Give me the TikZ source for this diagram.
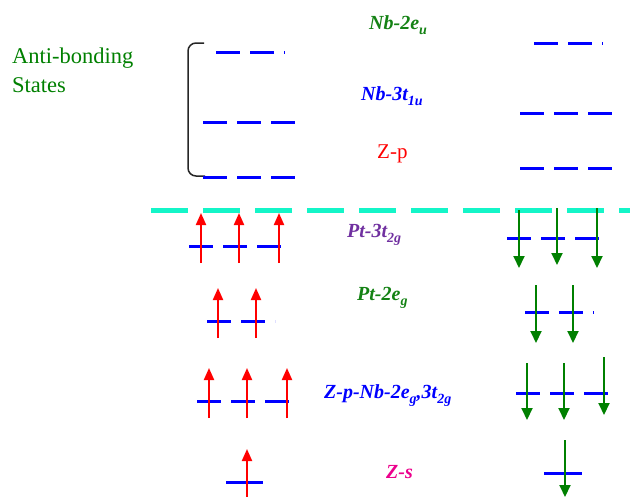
\documentclass[tikz,border=0pt]{standalone}
\usepackage{fontspec}
\setmainfont{Liberation Serif}
\usetikzlibrary{arrows.meta, positioning}

\definecolor{spingreen}{RGB}{0,128,0}
\definecolor{labgreen}{RGB}{20,130,20}
\definecolor{labpurple}{RGB}{112,48,160}
\definecolor{fermicyan}{RGB}{20,245,200}

\newcommand{\lowidx}[1]{\raisebox{-5pt}{\fontsize{14}{14}\selectfont #1}}

\begin{document}
\begin{tikzpicture}[x=1pt, y=-1pt,
	level/.style={draw=blue, line width=3pt, dash pattern=on 24pt off 10pt},
	spinup/.style={red, line width=2pt, -{Triangle[length=12pt, width=10pt]}},
	spindown/.style={spingreen, line width=2pt, -{Triangle[length=12pt, width=11pt]}},
	orb/.style={anchor=base west, inner sep=0pt, font=\fontsize{20}{24}\selectfont\bfseries\itshape}]

	\useasboundingbox (0,0) rectangle (630,496);

	% text
	\node[anchor=base west, inner sep=0pt, spingreen, font=\fontsize{22.5}{26}\selectfont] (anti) at (12,63) {Anti-bonding};
	\node[anchor=base west, inner sep=0pt, spingreen, font=\fontsize{22.5}{26}\selectfont] (states) at ([yshift=-29pt]anti.base west) {States};

	\node[orb, labgreen] (eu) at (369,29) {Nb-2e\lowidx{u}};
	\node[orb, blue] (tu) at (361,100) {Nb-3t\lowidx{1u}};
	\node[anchor=base west, inner sep=0pt, red, font=\fontsize{21}{24}\selectfont] (zp) at (377,158) {Z-p};
	\node[orb, labpurple] (ttg) at (347,237) {Pt-3t\lowidx{2g}};
	\node[orb, labgreen] (eg) at (357,300) {Pt-2e\lowidx{g}};
	\node[orb, blue] (mix) at (324,398) {Z-p-Nb-2e\lowidx{g},3t\lowidx{2g}};
	\node[orb, magenta] (zs) at (386,478) {Z-s};

	% bracket
	\draw[black!85, line width=1.5pt, rounded corners=8pt] (204,43) -- (188,43) -- (188,176) -- (205,176);

	% Fermi level
	\draw[fermicyan, line width=5pt, dash pattern=on 37pt off 15pt] (151,210) -- (632,210);

	% levels, spin up side
	\draw[level] (216,52) -- (285,52);
	\draw[level] (203,122) -- (295,122);
	\draw[level] (203,177) -- (295,177);
	\draw[level] (189,246) -- (282,246);
	\draw[level] (207,321) -- (275,321);
	\draw[level] (197,401) -- (291,401);
	\draw[blue, line width=3pt] (226,482) -- (263,482);

	% levels, spin down side
	\draw[level] (534,43) -- (603,43);
	\draw[level] (520,113) -- (614,113);
	\draw[level] (520,168) -- (614,168);
	\draw[level] (507,238) -- (601,238);
	\draw[level] (525,312) -- (594,312);
	\draw[level] (516,393) -- (609,393);
	\draw[blue, line width=3pt] (544,473) -- (582,473);

	% spin up electrons
	\draw[spinup] (201,263) -- (201,213);
	\draw[spinup] (239,263) -- (239,213);
	\draw[spinup] (279,263) -- (279,213);
	\draw[spinup] (218,338) -- (218,288);
	\draw[spinup] (256,338) -- (256,288);
	\draw[spinup] (209,418) -- (209,368);
	\draw[spinup] (247,418) -- (247,368);
	\draw[spinup] (287,418) -- (287,368);
	\draw[spinup] (247,498) -- (247,449);

	% spin down electrons
	\draw[spindown] (519,210) -- (519,268);
	\draw[spindown] (557,208) -- (557,265);
	\draw[spindown] (597,208) -- (597,268);
	\draw[spindown] (536,285) -- (536,343);
	\draw[spindown] (573,285) -- (573,343);
	\draw[spindown] (527,363) -- (527,420);
	\draw[spindown] (564,363) -- (564,420);
	\draw[spindown] (604,357) -- (604,415);
	\draw[spindown] (565,440) -- (565,497);

\end{tikzpicture}
\end{document}
